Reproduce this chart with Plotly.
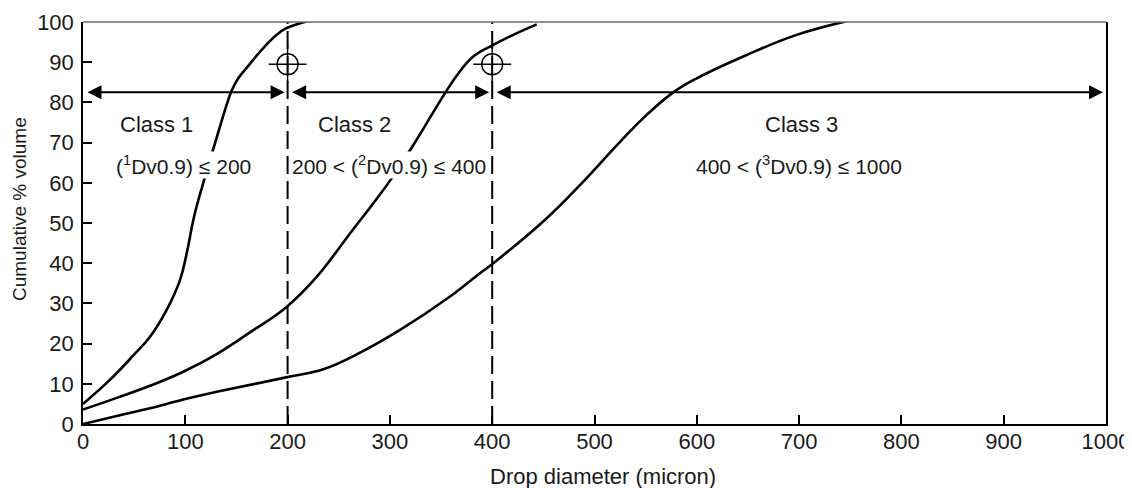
import plotly.graph_objects as go

# Class 1 curve
c1_x = [0, 26, 49, 65.5, 81.8, 94.8, 101.4, 108.5, 117, 129, 140.4, 145.3, 151.8, 163.2, 176.2, 189.3, 198.4, 219]
c1_y = [5.0, 10.9, 17.0, 21.7, 28.4, 35.8, 42.5, 51.5, 59.5, 69.8, 79.4, 82.9, 86.0, 89.6, 93.5, 96.8, 98.4, 100.2]
# Class 2 curve
c2_x = [0, 33, 65.5, 98, 130.7, 163.2, 198.4, 228.4, 261, 283.8, 301.7, 322.9, 340.8, 353.9, 366.9, 381.5, 401.1, 420.6, 443.5]
c2_y = [3.6, 6.5, 9.5, 13.0, 17.4, 22.8, 29.0, 36.6, 47.4, 54.9, 61.1, 69.4, 76.9, 82.3, 87.2, 91.4, 94.3, 96.8, 99.4]
# Class 3 curve
c3_x = [0, 33, 65.5, 98, 130.7, 198.4, 234.9, 267.5, 309.9, 358.8, 388, 401.1, 453.3, 486, 525, 551, 577, 600, 648.8, 697.6, 746.5]
c3_y = [0.0, 2.0, 3.9, 6.1, 8.0, 11.6, 13.6, 17.3, 23.4, 31.7, 37.5, 40.0, 51.2, 59.5, 70.2, 76.9, 82.5, 86.0, 91.8, 96.8, 100.2]

boundaries = [200, 400]
marker_y = [89.5, 89.5]
arrow_y = 82.5
arrows = [(0, 200), (200, 400), (400, 1000)]
class_names = ["Class 1", "Class 2", "Class 3"]
class_rules = ["(<sup>1</sup>Dv0.9) ≤ 200", "200 < (<sup>2</sup>Dv0.9) ≤ 400", "400 < (<sup>3</sup>Dv0.9) ≤ 1000"]
name_x = [72.3, 265, 702]
rule_x = [98.7, 299, 700]
name_y = 74.4
rule_y = 64.4

x_ticks = list(range(0, 1001, 100))
y_ticks = list(range(0, 101, 10))

FAM = "Liberation Sans, Arial, sans-serif"
TXT = "#1a1a1a"

# page body has an 8px margin: figure sized so the plot area lands at 83..1106 x 22..424
W, H = 1124, 480
ML, MR, MT, MB = 75, 26, 14, 64
PW = W - ML - MR
PH = H - MT - MB


def paper_x(px):
    return (px - 8 - ML) / PW


def paper_y(py):
    return (8 + H - MB - py) / PH


fig = go.Figure()
for xs, ys in [(c1_x, c1_y), (c2_x, c2_y), (c3_x, c3_y)]:
    fig.add_trace(go.Scatter(x=xs, y=ys, mode="lines",
                             line=dict(color="black", width=2.6, shape="spline", smoothing=1.2),
                             showlegend=False, hoverinfo="skip"))

for b in boundaries:
    fig.add_shape(type="line", x0=b, x1=b, y0=0, y1=100, xref="x", yref="y",
                  line=dict(color="black", width=2, dash="18px,7px"))

# grey top frame line
fig.add_shape(type="line", x0=0, x1=1, y0=1, y1=1, xref="paper", yref="paper",
              line=dict(color="#6b6b6b", width=1.5))

# crosshair circles
fig.add_trace(go.Scatter(x=boundaries, y=marker_y, mode="markers",
                         marker=dict(symbol="circle", size=21, color="white", line=dict(width=1.4, color="black")),
                         showlegend=False, hoverinfo="skip"))
fig.add_trace(go.Scatter(x=boundaries, y=marker_y, mode="markers",
                         marker=dict(symbol="cross-thin-open", size=27, color="black", line=dict(width=1.4, color="black")),
                         showlegend=False, hoverinfo="skip"))

for (a, b) in arrows:
    fig.add_annotation(x=b, y=arrow_y, ax=a, ay=arrow_y, xref="x", yref="y", axref="x", ayref="y",
                       text="", showarrow=True, arrowhead=2, startarrowhead=2, arrowside="end+start",
                       arrowsize=1.4, startarrowsize=1.4, arrowwidth=2, arrowcolor="black",
                       standoff=3, startstandoff=3)

for i in range(3):
    fig.add_annotation(x=name_x[i], y=name_y, text=class_names[i], showarrow=False, xref="x", yref="y",
                       font=dict(family=FAM, size=22, color=TXT), bgcolor="white", borderpad=0)
    fig.add_annotation(x=rule_x[i], y=rule_y, text=class_rules[i], showarrow=False, xref="x", yref="y",
                       font=dict(family=FAM, size=21, color=TXT), bgcolor="white", borderpad=0)

# axis titles
fig.add_annotation(xref="paper", yref="paper", x=paper_x(603), y=paper_y(476), text="Drop diameter (micron)",
                   showarrow=False, xanchor="center", yanchor="middle",
                   font=dict(family=FAM, size=22, color=TXT))
fig.add_annotation(xref="paper", yref="paper", x=paper_x(19), y=paper_y(209), text="Cumulative % volume",
                   textangle=-90, showarrow=False, xanchor="center", yanchor="middle",
                   font=dict(family=FAM, size=19, color=TXT))

axis_common = dict(showgrid=False, zeroline=False, showline=True, linecolor="black", linewidth=1.5,
                   ticks="inside", ticklen=9, tickwidth=1.5, tickcolor="black", automargin=False,
                   tickfont=dict(family=FAM, size=22, color=TXT))
fig.update_xaxes(range=[0, 1000], tickvals=x_ticks, ticklabelstandoff=-3, mirror=False, **axis_common)
fig.update_yaxes(range=[0, 100], tickvals=y_ticks, ticklabelstandoff=3, mirror=True, **axis_common)

fig.update_layout(width=W, height=H, margin=dict(l=ML, r=MR, t=MT, b=MB, autoexpand=False),
                  plot_bgcolor="white", paper_bgcolor="white")
fig.write_html("out.html")
